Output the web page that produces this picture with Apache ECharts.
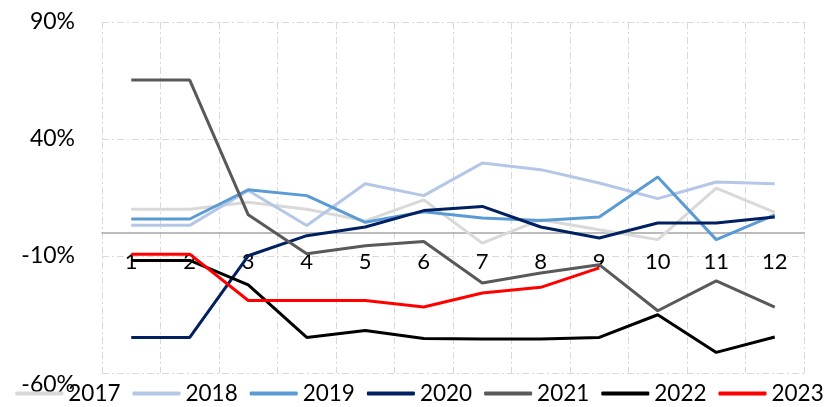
<!DOCTYPE html>
<html>
<head>
<meta charset="utf-8">
<script src="https://cdn.jsdelivr.net/npm/echarts@6/dist/echarts.min.js"></script>
<style>
  html, body { margin: 0; padding: 0; background: #fff; }
  #chart { width: 839px; height: 407px; }
</style>
</head>
<body>
<div id="chart"></div>
<script>
const months = ['1', '2', '3', '4', '5', '6', '7', '8', '9', '10', '11', '12'];

const y2017 = [10, 10, 13, 10, 5, 14, -4.5, 5.5, 1.2, -3, 19, 8.6];
const y2018 = [3.1, 3.1, 18, 3, 20.9, 15.8, 29.7, 26.9, 21.2, 14.5, 21.6, 20.9];
const y2019 = [5.8, 5.8, 18.3, 15.8, 4.4, 8.9, 6.2, 5.2, 6.7, 23.8, -3, 7.6];
const y2020 = [-44.8, -44.8, -9.9, -1.3, 2.4, 9.4, 11.2, 2.4, -2.3, 4.1, 4.1, 6.7];
const y2021 = [65.2, 65.2, 7.6, -9, -5.6, -3.8, -21.5, -17.3, -13.7, -33.4, -20.6, -31.8];
const y2022 = [-11.9, -11.9, -22.3, -44.8, -41.8, -45.3, -45.5, -45.5, -44.8, -35.1, -51.2, -44.6];
const y2023 = [-9.2, -9.2, -29, -29, -29, -31.8, -25.8, -23.4, -15.1, null, null, null];

const years = ['2017', '2018', '2019', '2020', '2021', '2022', '2023'];
const values = [y2017, y2018, y2019, y2020, y2021, y2022, y2023];
const colors = ['#d9d9d9', '#b4c7e7', '#5b9bd5', '#002060', '#595959', '#000000', '#ff0000'];

const font = 'Lato';
const gridLine = { color: '#d9d9d9', width: 1, type: [7, 3, 2, 3] };

const chart = echarts.init(document.getElementById('chart'));

const option = {
    backgroundColor: '#ffffff',
    animation: false,
    textStyle: { fontFamily: font },
    grid: { left: 102, right: 35, top: 22, bottom: 34, outerBoundsMode: 'none', containLabel: false },
    legend: {
        top: 382,
        left: 'center',
        padding: 0,
        icon: 'roundRect',
        itemWidth: 48,
        itemHeight: 4,
        itemGap: 12,
        textStyle: { fontSize: 22.5, color: '#000', fontFamily: font },
        data: years
    },
    xAxis: {
        type: 'category',
        data: months,
        boundaryGap: true,
        axisLine: { onZero: true, lineStyle: { color: '#a6a6a6', width: 1.5 } },
        axisTick: { show: false },
        // labels sit just under the zero line, as in the reference
        axisLabel: { fontSize: 22, color: '#000', margin: -122, fontFamily: font },
        splitLine: { show: true, lineStyle: gridLine }
    },
    yAxis: {
        type: 'value',
        min: -60,
        max: 90,
        interval: 50,
        axisLine: { show: false },
        axisTick: { show: false },
        axisLabel: {
            fontSize: 23,
            color: '#000',
            margin: 27,
            fontFamily: font,
            formatter: '{value}%',
            verticalAlignMinLabel: 'top'
        },
        splitLine: { show: true, lineStyle: gridLine }
    },
    series: years.map((name, i) => ({
        name: name,
        type: 'line',
        data: values[i],
        symbol: 'none',
        connectNulls: false,
        lineStyle: { color: colors[i], width: 3 },
        itemStyle: { color: colors[i] }
    }))
};

chart.setOption(option);
</script>
</body>
</html>
